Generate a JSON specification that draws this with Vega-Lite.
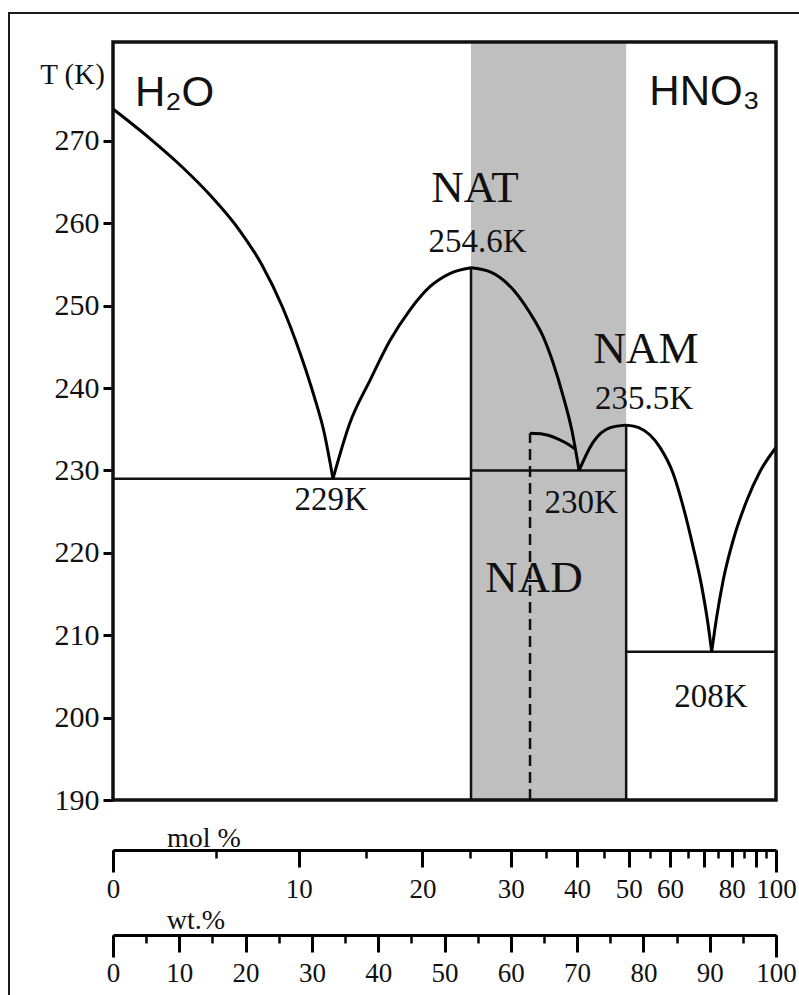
{
  "$schema": "https://vega.github.io/schema/vega-lite/v6.json",
  "width": 800,
  "height": 990,
  "autosize": {"type": "none"},
  "padding": {"left": 9, "top": 13, "right": -10, "bottom": -8},
  "background": "white",
  "config": {
    "view": {"stroke": "#1a1a1a", "strokeWidth": 2},
    "axis": {"grid": false, "labelFont": "Liberation Serif, serif", "titleFont": "Liberation Serif, serif", "labelColor": "#111", "titleColor": "#111"}
  },
  "datasets": {
    "liquidus": [
      {"branch": "ice", "wt": 0, "T": 273.87},
      {"branch": "ice", "wt": 5.58, "T": 270.28},
      {"branch": "ice", "wt": 10.11, "T": 267.07},
      {"branch": "ice", "wt": 14.63, "T": 263.43},
      {"branch": "ice", "wt": 19.16, "T": 259.06},
      {"branch": "ice", "wt": 22.47, "T": 254.94},
      {"branch": "ice", "wt": 25.49, "T": 249.96},
      {"branch": "ice", "wt": 28.21, "T": 244.25},
      {"branch": "ice", "wt": 30.32, "T": 239.03},
      {"branch": "ice", "wt": 31.83, "T": 234.67},
      {"branch": "ice", "wt": 33.18, "T": 229},
      {"branch": "NAT-a", "wt": 33.18, "T": 229},
      {"branch": "NAT-a", "wt": 35.7, "T": 235.7},
      {"branch": "NAT-a", "wt": 38.8, "T": 241.0},
      {"branch": "NAT-a", "wt": 41.8, "T": 245.8},
      {"branch": "NAT-a", "wt": 44.8, "T": 249.5},
      {"branch": "NAT-a", "wt": 47.8, "T": 252.3},
      {"branch": "NAT-a", "wt": 50.8, "T": 253.9},
      {"branch": "NAT-a", "wt": 54.0, "T": 254.6},
      {"branch": "NAT-b", "wt": 54.0, "T": 254.6},
      {"branch": "NAT-b", "wt": 56.9, "T": 254.1},
      {"branch": "NAT-b", "wt": 60.4, "T": 251.9},
      {"branch": "NAT-b", "wt": 62.9, "T": 249.1},
      {"branch": "NAT-b", "wt": 64.9, "T": 246.2},
      {"branch": "NAT-b", "wt": 66.4, "T": 243.0},
      {"branch": "NAT-b", "wt": 67.9, "T": 239.0},
      {"branch": "NAT-b", "wt": 69.2, "T": 234.9},
      {"branch": "NAT-b", "wt": 70.3, "T": 230},
      {"branch": "NAM-a", "wt": 70.3, "T": 230},
      {"branch": "NAM-a", "wt": 72.4, "T": 233.4},
      {"branch": "NAM-a", "wt": 75.0, "T": 235.2},
      {"branch": "NAM-a", "wt": 77.4, "T": 235.5},
      {"branch": "NAM-b", "wt": 77.4, "T": 235.5},
      {"branch": "NAM-b", "wt": 79.3, "T": 235.2},
      {"branch": "NAM-b", "wt": 81.0, "T": 234.3},
      {"branch": "NAM-b", "wt": 82.5, "T": 232.8},
      {"branch": "NAM-b", "wt": 84.5, "T": 229.6},
      {"branch": "NAM-b", "wt": 86.0, "T": 225.6},
      {"branch": "NAM-b", "wt": 87.5, "T": 220.7},
      {"branch": "NAM-b", "wt": 88.8, "T": 215.9},
      {"branch": "NAM-b", "wt": 89.7, "T": 211.6},
      {"branch": "NAM-b", "wt": 90.3, "T": 208},
      {"branch": "HNO3", "wt": 90.3, "T": 208},
      {"branch": "HNO3", "wt": 91.06, "T": 212.25},
      {"branch": "HNO3", "wt": 92.05, "T": 216.74},
      {"branch": "HNO3", "wt": 93.56, "T": 221.59},
      {"branch": "HNO3", "wt": 95.58, "T": 226.32},
      {"branch": "HNO3", "wt": 97.59, "T": 229.87},
      {"branch": "HNO3", "wt": 100, "T": 232.78}
    ],
    "nadLiquidus": [
      {"wt": 62.9, "T": 234.5},
      {"wt": 64.9, "T": 234.4},
      {"wt": 66.9, "T": 233.9},
      {"wt": 68.4, "T": 233.3},
      {"wt": 69.7, "T": 232.6}
    ],
    "hydrates": [
      {"phase": "NAT", "wt": 54.0, "T": 190, "T2": 254.6, "kind": "stable"},
      {"phase": "NAD", "wt": 62.9, "T": 190, "T2": 234.5, "kind": "metastable"},
      {"phase": "NAM", "wt": 77.4, "T": 190, "T2": 235.5, "kind": "stable"}
    ],
    "eutectics": [
      {"wt": 0, "wt2": 54.0, "T": 229},
      {"wt": 54.0, "wt2": 77.4, "T": 230},
      {"wt": 77.4, "wt2": 100, "T": 208}
    ],
    "hydrateBand": [{"wt": 54.0, "wt2": 77.4}],
    "phaseLabels": [
      {"label": "NAT", "wt": 54.6, "T": 262.6},
      {"label": "NAM", "wt": 80.4, "T": 243.0},
      {"label": "NAD", "wt": 63.5, "T": 215.3}
    ],
    "tempLabels": [
      {"label": "254.6K", "wt": 55.0, "T": 256.5},
      {"label": "235.5K", "wt": 80.1, "T": 237.5},
      {"label": "229K", "wt": 32.9, "T": 225.2},
      {"label": "230K", "wt": 70.6, "T": 224.8},
      {"label": "208K", "wt": 90.2, "T": 201.3}
    ],
    "species": [
      {"label": "H₂O", "wt": 3.3, "T": 274.2},
      {"label": "HNO₃", "wt": 80.9, "T": 274.4}
    ],
    "molTicks": [
      {"mol": 0, "wt": 0}, {"mol": 10, "wt": 28}, {"mol": 20, "wt": 46.67},
      {"mol": 30, "wt": 60}, {"mol": 40, "wt": 70}, {"mol": 50, "wt": 77.78},
      {"mol": 60, "wt": 84}, {"mol": 70, "wt": 89.09}, {"mol": 80, "wt": 93.33},
      {"mol": 90, "wt": 96.92}, {"mol": 100, "wt": 100}
    ],
    "wtTicks": [
      {"wt": 0}, {"wt": 10}, {"wt": 20}, {"wt": 30}, {"wt": 40}, {"wt": 50},
      {"wt": 60}, {"wt": 70}, {"wt": 80}, {"wt": 90}, {"wt": 100}
    ]
  },
  "resolve": {"axis": {"x": "independent"}},
  "layer": [
    {
      "data": {"name": "hydrateBand"},
      "mark": {"type": "rect", "color": "#bfbfbf"},
      "encoding": {
        "x": {"field": "wt", "type": "quantitative", "scale": {"domain": [0, 100], "range": [104, 767], "nice": false, "zero": false}, "axis": null},
        "x2": {"field": "wt2"},
        "y": {"datum": 190, "type": "quantitative", "scale": {"domain": [190, 282], "range": [787, 29], "nice": false, "zero": false}},
        "y2": {"datum": 282}
      }
    },
    {
      "data": {"name": "eutectics"},
      "mark": {"type": "rule", "color": "#111", "strokeWidth": 2.5},
      "encoding": {
        "x": {"field": "wt", "type": "quantitative", "axis": null},
        "x2": {"field": "wt2"},
        "y": {"field": "T", "type": "quantitative"}
      }
    },
    {
      "data": {"name": "hydrates"},
      "mark": {"type": "rule", "color": "#111", "strokeWidth": 2.5},
      "encoding": {
        "x": {"field": "wt", "type": "quantitative", "axis": null},
        "y": {"field": "T", "type": "quantitative"},
        "y2": {"field": "T2"},
        "strokeDash": {"field": "kind", "type": "nominal", "scale": {"domain": ["stable", "metastable"], "range": [[1, 0], [11, 6]]}, "legend": null}
      }
    },
    {
      "data": {"name": "liquidus"},
      "mark": {"type": "line", "color": "#000", "strokeWidth": 3, "interpolate": "monotone"},
      "encoding": {
        "x": {"field": "wt", "type": "quantitative", "axis": null},
        "y": {
          "field": "T", "type": "quantitative",
          "axis": {
            "orient": "left", "offset": -104,
            "values": [190, 200, 210, 220, 230, 240, 250, 260, 270],
            "domain": false, "tickSize": 10, "tickWidth": 3, "tickColor": "#000",
            "labelFont": "Liberation Serif, serif", "labelFontSize": 30, "labelColor": "#111",
            "labelPadding": 4, "labelFlush": false, "labelOverlap": false,
            "encode": {"labels": {"update": {"font": {"value": "Liberation Serif, serif"}}}},
            "title": "T (K)", "titleFont": "Liberation Serif, serif", "titleFontSize": 29,
            "titleFontWeight": "normal", "titleColor": "#111", "titleAngle": 0,
            "titleX": -41, "titleY": 70, "titleAlign": "center", "titleBaseline": "alphabetic"
          }
        },
        "detail": {"field": "branch", "type": "nominal"}
      }
    },
    {
      "data": {"name": "nadLiquidus"},
      "mark": {"type": "line", "color": "#000", "strokeWidth": 3, "interpolate": "monotone"},
      "encoding": {
        "x": {"field": "wt", "type": "quantitative", "axis": null},
        "y": {"field": "T", "type": "quantitative"}
      }
    },
    {
      "data": {"name": "phaseLabels"},
      "mark": {"type": "text", "font": "Liberation Serif", "fontSize": 45, "align": "center", "baseline": "alphabetic", "color": "#111"},
      "encoding": {
        "x": {"field": "wt", "type": "quantitative", "axis": null},
        "y": {"field": "T", "type": "quantitative"},
        "text": {"field": "label"}
      }
    },
    {
      "data": {"name": "tempLabels"},
      "mark": {"type": "text", "font": "Liberation Serif", "fontSize": 33, "align": "center", "baseline": "alphabetic", "color": "#111"},
      "encoding": {
        "x": {"field": "wt", "type": "quantitative", "axis": null},
        "y": {"field": "T", "type": "quantitative"},
        "text": {"field": "label"}
      }
    },
    {
      "data": {"name": "species"},
      "mark": {"type": "text", "font": "Liberation Sans", "fontSize": 42, "align": "left", "baseline": "alphabetic", "color": "#111"},
      "encoding": {
        "x": {"field": "wt", "type": "quantitative", "axis": null},
        "y": {"field": "T", "type": "quantitative"},
        "text": {"field": "label"}
      }
    },
    {
      "data": {"values": [{}]},
      "mark": {"type": "rect", "fillOpacity": 0, "stroke": "#111", "strokeWidth": 3.5},
      "encoding": {
        "x": {"datum": 0, "type": "quantitative", "axis": null},
        "x2": {"datum": 100},
        "y": {"datum": 190, "type": "quantitative"},
        "y2": {"datum": 282}
      }
    },
    {
      "data": {"name": "molTicks"},
      "mark": {"type": "rule", "opacity": 0},
      "encoding": {
        "x": {
          "field": "wt", "type": "quantitative",
          "axis": {
            "orient": "bottom", "offset": -153,
            "values": [0, 28, 46.67, 60, 70, 77.78, 84, 89.09, 93.33, 96.92, 100],
            "labelExpr": "['0','10','20','30','40','50','60','','80','','100'][indexof([0, 28, 46.67, 60, 70, 77.78, 84, 89.09, 93.33, 96.92, 100], datum.value)]",
            "domain": true, "domainWidth": 3, "domainColor": "#000",
            "tickSize": 17, "tickWidth": 3, "tickColor": "#000",
            "labelFont": "Liberation Serif, serif", "labelFontSize": 27, "labelColor": "#111",
            "encode": {"labels": {"update": {"font": {"value": "Liberation Serif, serif"}}}},
            "labelPadding": 9, "labelFlush": false, "labelOverlap": false, "labelBound": false,
            "title": "mol %", "titleFont": "Liberation Serif, serif", "titleFontSize": 28,
            "titleFontWeight": "normal", "titleColor": "#111",
            "titleX": 194.5, "titleY": -4, "titleAlign": "center", "titleBaseline": "alphabetic"
          }
        }
      }
    },
    {
      "data": {"name": "molTicks"},
      "mark": {"type": "rule", "opacity": 0},
      "encoding": {
        "x": {
          "field": "wt", "type": "quantitative",
          "axis": {
            "orient": "bottom", "offset": -153,
            "values": [15.56, 38.18, 53.85, 65.33, 74.12, 81.05, 86.67, 91.3, 95.2, 98.52],
            "domain": false, "labels": false, "title": null,
            "tickSize": 8, "tickWidth": 2.5, "tickColor": "#000"
          }
        }
      }
    },
    {
      "data": {"name": "molTicks"},
      "mark": {"type": "rule", "opacity": 0},
      "encoding": {
        "x": {
          "field": "wt", "type": "quantitative",
          "axis": {
            "orient": "bottom", "offset": -153, "values": [0, 100],
            "domain": false, "labels": false, "title": null,
            "tickSize": 22, "tickWidth": 3, "tickColor": "#000"
          }
        }
      }
    },
    {
      "data": {"name": "wtTicks"},
      "mark": {"type": "rule", "opacity": 0},
      "encoding": {
        "x": {
          "field": "wt", "type": "quantitative",
          "axis": {
            "orient": "bottom", "offset": -68,
            "values": [0, 10, 20, 30, 40, 50, 60, 70, 80, 90, 100],
            "domain": true, "domainWidth": 3, "domainColor": "#000",
            "tickSize": 17, "tickWidth": 3, "tickColor": "#000",
            "labelFont": "Liberation Serif, serif", "labelFontSize": 27, "labelColor": "#111",
            "encode": {"labels": {"update": {"font": {"value": "Liberation Serif, serif"}}}},
            "labelPadding": 8, "labelFlush": false, "labelOverlap": false, "labelBound": false,
            "title": "wt.%", "titleFont": "Liberation Serif, serif", "titleFontSize": 28,
            "titleFontWeight": "normal", "titleColor": "#111",
            "titleX": 186.5, "titleY": -7, "titleAlign": "center", "titleBaseline": "alphabetic"
          }
        }
      }
    },
    {
      "data": {"name": "wtTicks"},
      "mark": {"type": "rule", "opacity": 0},
      "encoding": {
        "x": {
          "field": "wt", "type": "quantitative",
          "axis": {
            "orient": "bottom", "offset": -68,
            "values": [5, 15, 25, 35, 45, 55, 65, 75, 85, 95],
            "domain": false, "labels": false, "title": null,
            "tickSize": 8, "tickWidth": 2.5, "tickColor": "#000"
          }
        }
      }
    },
    {
      "data": {"name": "wtTicks"},
      "mark": {"type": "rule", "opacity": 0},
      "encoding": {
        "x": {
          "field": "wt", "type": "quantitative",
          "axis": {
            "orient": "bottom", "offset": -68, "values": [0, 100],
            "domain": false, "labels": false, "title": null,
            "tickSize": 22, "tickWidth": 3, "tickColor": "#000"
          }
        }
      }
    }
  ]
}
